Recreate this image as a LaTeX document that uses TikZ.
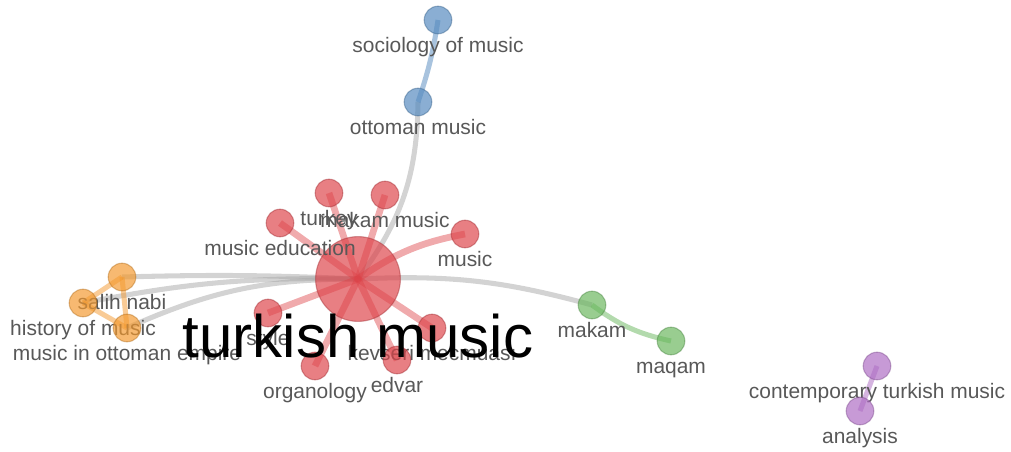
\documentclass[tikz,border=0pt]{standalone}
\usepackage{fontspec}
\setmainfont{Liberation Sans}
\usetikzlibrary{backgrounds}

\definecolor{vred}{RGB}{221,66,72}
\definecolor{vblue}{RGB}{82,136,190}
\definecolor{vorange}{RGB}{243,152,45}
\definecolor{vgreen}{RGB}{104,182,92}
\definecolor{vpurple}{RGB}{172,106,194}
\definecolor{vedge}{RGB}{168,168,168}
\definecolor{vlabel}{RGB}{88,88,88}

\tikzset{
  kw/.style={circle, inner sep=0pt, minimum size=0.69cm, fill=#1, draw=#1!75!black,
    fill opacity=0.68, draw opacity=0.45, line width=0.8pt},
  every label/.style={text=vlabel, font=\fontsize{14.9}{16}\selectfont, inner sep=0pt,
    text height=0.72em, text depth=0.21em},
  link/.style={line width=3.6pt, draw=#1, draw opacity=0.5},
  biglink/.style={line width=4.8pt, draw=#1, draw opacity=0.45},
}

\begin{document}
\begin{tikzpicture}[x=0.025cm, y=-0.025cm, label distance=5.8pt]
  \useasboundingbox (0,0) rectangle (1011,452);

  % main keyword
  \node[kw=vred, minimum size=2.12cm] (tm) at (358,279) {};

  % red cluster
  \node[kw=vred, label=below:turkey]           (turkey) at (329,193) {};
  \node[kw=vred, label=below:makam music]      (makmus) at (385,195) {};
  \node[kw=vred, label=below:music education]  (musedu) at (280,223) {};
  \node[kw=vred, label=below:music]            (music)  at (465,234) {};
  \node[kw=vred, label=below:style]            (style)  at (268,313) {};
  \node[kw=vred, label=below:kevseri mecmuası] (kevser) at (432,328) {};
  \node[kw=vred, label=below:organology]       (organ)  at (315,366) {};
  \node[kw=vred, label=below:edvar]            (edvar)  at (397,360) {};

  % blue cluster
  \node[kw=vblue, label=below:sociology of music] (socio) at (438,20) {};
  \node[kw=vblue, label=below:ottoman music]      (ottmus) at (418,102) {};

  % orange cluster
  \node[kw=vorange, label=below:salih nabi]              (salih) at (122,277) {};
  \node[kw=vorange, label=below:history of music]        (hist)  at (83,303) {};
  \node[kw=vorange, label=below:music in ottoman empire] (ottemp) at (127,328) {};

  % green cluster
  \node[kw=vgreen, label=below:makam] (makam) at (592,305) {};
  \node[kw=vgreen, label=below:maqam] (maqam) at (671,341) {};

  % purple cluster
  \node[kw=vpurple, label=below:contemporary turkish music] (contemp) at (877,366) {};
  \node[kw=vpurple, label=below:analysis]                   (anal)    at (860,411) {};

  \node[font=\fontsize{42.7}{46}\selectfont, anchor=base, inner sep=0pt] (tmlbl) at (358,357) {turkish music};

  \begin{pgfonlayer}{background}
    % links between clusters
    \draw[link=vedge] (tm.center) to[bend right=18] (ottmus.center);
    \draw[link=vedge] (tm.center) to[bend left=9] (makam.center);
    \draw[link=vedge] (tm.center) to[bend right=2] (salih.center);
    \draw[link=vedge] (tm.center) to[bend right=6] (hist.center);
    \draw[link=vedge] (tm.center) to[bend right=12] (ottemp.center);
    % links in clusters
    \foreach \k in {turkey,makmus,musedu,style,kevser,organ,edvar}
      \draw[biglink=vred] (tm.center) -- (\k.center);
    \draw[biglink=vred] (tm.center) to[bend left=12] (music.center);
    \draw[link=vblue] (ottmus.center) to[bend right=5] (socio.center);
    \draw[link=vorange] (salih.center) -- (hist.center);
    \draw[link=vorange] (salih.center) -- (ottemp.center);
    \draw[link=vorange] (hist.center) -- (ottemp.center);
    \draw[link=vgreen] (makam.center) to[bend right=12] (maqam.center);
    \draw[link=vpurple] (contemp.center) -- (anal.center);
  \end{pgfonlayer}
\end{tikzpicture}
\end{document}
